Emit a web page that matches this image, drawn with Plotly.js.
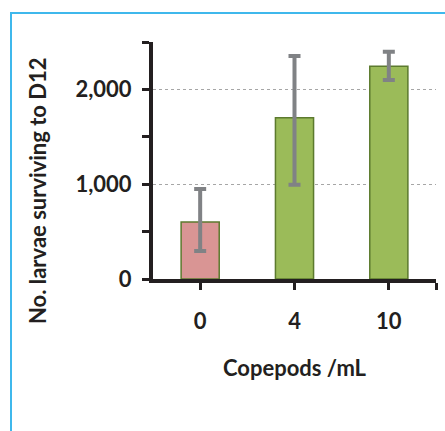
<!DOCTYPE html>
<html>
<head>
<meta charset="utf-8">
<script src="https://cdn.plot.ly/plotly-3.0.1.min.js"></script>
<style>
  html, body { margin: 0; padding: 0; background: #ffffff; }
  #frame { position: absolute; left: 10px; top: 12px; width: 440px; height: 430px;
           border-left: 2px solid #3FB8EC; border-top: 2px solid #3FB8EC; }
  #chart { position: absolute; left: 0; top: 0; width: 445px; height: 431px; }
</style>
</head>
<body>
<div id="frame"></div>
<div id="chart"></div>
<script>
const categories = ['0', '4', '10'];
const larvae = [600, 1700, 2245];
const errPlus = [350, 653, 153];
const errMinus = [305, 705, 145];
const barColors = ['#D99594', '#9BBB59', '#9BBB59'];
const yTickVals = [0, 1000, 2000];
const yTickText = ['0', '1,000', '2,000'];

const xPos = categories.map((c, i) => i);

const trace = {
  type: 'bar',
  x: xPos,
  y: larvae,
  width: 0.404,
  marker: { color: barColors, line: { color: '#5C7A2E', width: 1.5 } },
  error_y: {
    type: 'data', symmetric: false,
    array: errPlus, arrayminus: errMinus,
    color: '#808285', thickness: 4, width: 6
  },
  hoverinfo: 'none'
};

const font = { family: 'Lato, "Open Sans", sans-serif', size: 22, color: '#231F20', weight: 'bold' };

const layout = {
  width: 445, height: 431,
  margin: { l: 153, r: 9, t: 42, b: 152 },
  paper_bgcolor: 'rgba(0,0,0,0)',
  plot_bgcolor: 'rgba(0,0,0,0)',
  showlegend: false,
  font: font,
  xaxis: {
    range: [-0.5, 2.5],
    tickvals: xPos.concat([2.5]),
    ticktext: categories.concat(['']),
    ticks: 'outside', ticklen: 7, tickwidth: 3, tickcolor: '#231F20',
    showline: true, linecolor: '#231F20', linewidth: 4,
    showgrid: false, zeroline: false,
    ticklabelstandoff: 13,
    tickfont: font,
    title: { text: 'Copepods /mL', font: font, standoff: 28 }
  },
  yaxis: {
    range: [0, 2500],
    tickvals: yTickVals,
    ticktext: yTickText,
    ticks: 'outside', ticklen: 7, tickwidth: 3, tickcolor: '#231F20',
    showline: true, linecolor: '#231F20', linewidth: 4,
    showgrid: true, gridcolor: '#A6A6A6', griddash: 'dot', gridwidth: 1,
    zeroline: false,
    ticklabelstandoff: 6,
    tickfont: font,
    minor: { tickvals: [500, 1500, 2500], ticks: 'outside', ticklen: 7, tickwidth: 3, tickcolor: '#231F20', showgrid: false }
  },
  annotations: [{
    text: 'No. larvae surviving to D12',
    xref: 'paper', yref: 'paper',
    x: -0.41, y: 0.375,
    xanchor: 'center', yanchor: 'middle',
    textangle: -90, showarrow: false,
    font: font
  }]
};

Plotly.newPlot('chart', [trace], layout, { displayModeBar: false, staticPlot: true });
</script>
</body>
</html>
